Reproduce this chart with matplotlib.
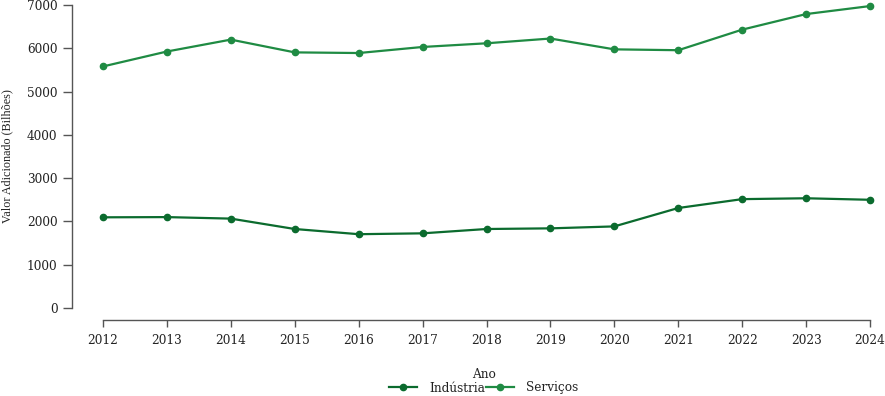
import matplotlib
matplotlib.use("Agg")
from matplotlib import pyplot as plt

anos = [2012, 2013, 2014, 2015, 2016, 2017, 2018, 2019, 2020, 2021, 2022, 2023, 2024]
industria = [2095, 2100, 2065, 1825, 1705, 1725, 1825, 1840, 1885, 2310, 2515, 2535, 2500]
servicos = [5580, 5925, 6200, 5905, 5890, 6030, 6115, 6225, 5975, 5955, 6430, 6790, 6975]
y_ticks = [0, 1000, 2000, 3000, 4000, 5000, 6000, 7000]

cor_ind = '#0b6b2e'
cor_serv = '#1f8b43'
eixo = '#555555'

fig = plt.figure(figsize=(8.85, 3.96), dpi=100)
ax = fig.add_axes([72/885, 1-320/396, (876.4-72)/885, 320/396])

ax.plot(anos, industria, color=cor_ind, lw=1.6, marker='o', ms=4.5, label='Indústria')
ax.plot(anos, servicos, color=cor_serv, lw=1.6, marker='o', ms=4.5, label='Serviços')

ax.set_xlim(2011.515, 2024.1)
ax.set_ylim(-277, 7115)
ax.set_xticks(anos)
ax.set_yticks(y_ticks)

for s in ['top', 'right']:
    ax.spines[s].set_visible(False)
ax.spines['left'].set_bounds(0, 7000)
ax.spines['bottom'].set_bounds(2012, 2024)
for s in ['left', 'bottom']:
    ax.spines[s].set_color(eixo)
    ax.spines[s].set_linewidth(1.0)

ax.tick_params(axis='y', length=6.5, width=1.0, color=eixo, pad=4, labelsize=8.7, labelcolor='#222222')
ax.tick_params(axis='x', length=5, width=1.0, color=eixo, pad=5, labelsize=8.7, labelcolor='#222222')
for lab in ax.get_xticklabels() + ax.get_yticklabels():
    lab.set_family('DejaVu Serif')

fig.text(7/885, 1-156/396, 'Valor Adicionado (Bilhões)', rotation=90, ha='center', va='center',
         family='Liberation Serif', fontsize=8.7, color='#222222')
fig.text(484/885, 1-374/396, 'Ano', ha='center', va='center', family='DejaVu Serif',
         fontsize=8.7, color='#222222')

leg = fig.legend(loc='center', bbox_to_anchor=(484/885, 1-388/396), ncol=2, frameon=False,
                 prop={'family': 'DejaVu Serif', 'size': 8.7}, handlelength=2.3,
                 handletextpad=1.0, columnspacing=0.1, borderaxespad=0, borderpad=0)
for t in leg.get_texts():
    t.set_color('#222222')

fig.savefig('out.png', dpi=100)
